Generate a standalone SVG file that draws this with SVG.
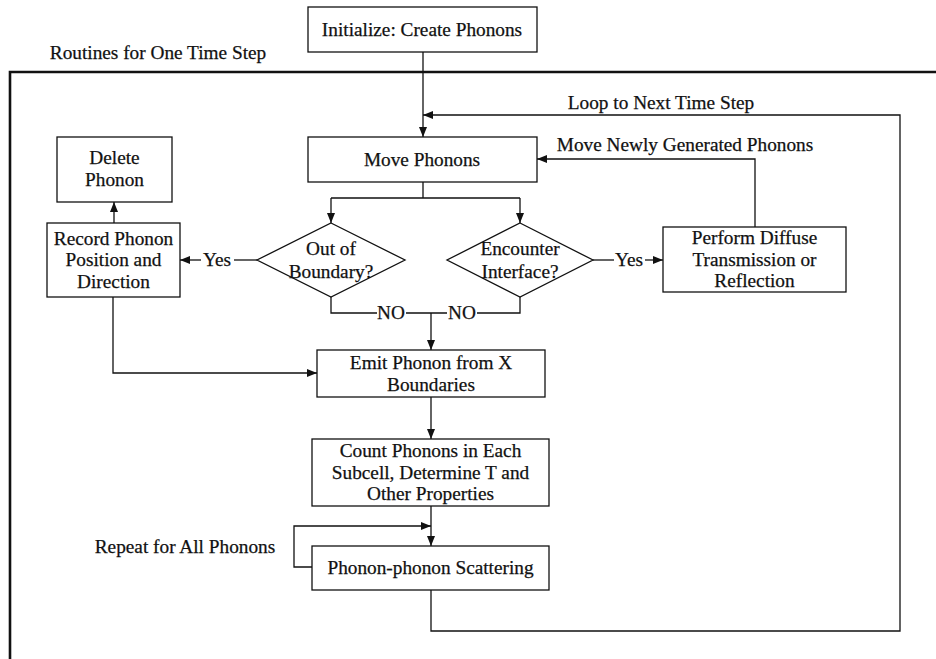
<svg xmlns="http://www.w3.org/2000/svg" width="936" height="659" viewBox="0 0 936 659">
  <defs>
    <marker id="arrow" markerUnits="userSpaceOnUse" markerWidth="11" markerHeight="9" refX="10" refY="4" orient="auto">
      <path d="M0,0 L10,4 L0,8 z" fill="#111"/>
    </marker>
    <style>
      .box { fill: #fff; stroke: #111; stroke-width: 1.3; }
      .frame { fill: none; stroke: #111; stroke-width: 2.6; }
      .wire { fill: none; stroke: #111; stroke-width: 1.3; }
      .arr { marker-end: url(#arrow); }
      text { font-family: "Liberation Serif", "Times New Roman", serif; font-size: 19.3px; fill: #111; stroke: #111; stroke-width: 0.25; }
      .c { text-anchor: middle; }
    </style>
  </defs>
  <rect width="936" height="659" fill="#fff"/>

  <!-- enclosing frame for one time step -->
  <g id="time-step-frame">
    <path class="frame" d="M10,659 V72 H936"/>
    <text x="158" y="59" class="c">Routines for One Time Step</text>
  </g>

  <g id="connectors">
    <path class="wire arr" d="M423,52 V137"/>
    <path class="wire arr" d="M431,590 V631 H900 V115 H423"/>
    <path class="wire arr" d="M755,227 V159 H537"/>
    <path class="wire" d="M423,182 V198 M331,198 H520"/>
    <path class="wire arr" d="M331,198 V223"/>
    <path class="wire arr" d="M520,198 V223"/>
    <path class="wire" d="M257,260 H234"/>
    <path class="wire arr" d="M201,260 H180"/>
    <path class="wire" d="M593,260 H614"/>
    <path class="wire arr" d="M645,260 H663"/>
    <path class="wire" d="M331,297 V313 H377 M406,313 H447 M477,313 H520 V297"/>
    <path class="wire arr" d="M431,313 V350"/>
    <path class="wire arr" d="M113,297 V373 H317"/>
    <path class="wire arr" d="M114,223 V202"/>
    <path class="wire arr" d="M431,397 V439"/>
    <path class="wire arr" d="M431,506 V546"/>
    <path class="wire arr" d="M312,567 H294 V526 H431"/>
    <text x="661" y="109" class="c">Loop to Next Time Step</text>
    <text x="685" y="151" class="c">Move Newly Generated Phonons</text>
    <text x="217" y="266" class="c">Yes</text>
    <text x="629" y="266" class="c">Yes</text>
    <text x="391" y="319" class="c">NO</text>
    <text x="462" y="319" class="c">NO</text>
    <text x="185" y="553" class="c">Repeat for All Phonons</text>
  </g>

  <g id="initialize">
    <rect class="box" x="308" y="7" width="229" height="45"/>
    <text x="422" y="36" class="c">Initialize: Create Phonons</text>
  </g>

  <g id="move-phonons">
    <rect class="box" x="308" y="137" width="229" height="45"/>
    <text x="422" y="166" class="c">Move Phonons</text>
  </g>

  <g id="delete-phonon">
    <rect class="box" x="57" y="137" width="115" height="65"/>
    <text x="114.5" y="164" class="c">Delete</text>
    <text x="114.5" y="186" class="c">Phonon</text>
  </g>

  <g id="record-phonon">
    <rect class="box" x="47" y="223" width="133" height="74"/>
    <text x="113.5" y="245" class="c">Record Phonon</text>
    <text x="113.5" y="266" class="c">Position and</text>
    <text x="113.5" y="288" class="c">Direction</text>
  </g>

  <g id="out-of-boundary">
    <polygon class="box" points="331,223 405,260 331,297 257,260"/>
    <text x="331" y="255" class="c">Out of</text>
    <text x="331" y="278" class="c">Boundary?</text>
  </g>

  <g id="encounter-interface">
    <polygon class="box" points="520,223 593,260 520,297 447,260"/>
    <text x="520" y="255" class="c">Encounter</text>
    <text x="520" y="278" class="c">Interface?</text>
  </g>

  <g id="diffuse-transmission">
    <rect class="box" x="663" y="227" width="183" height="65"/>
    <text x="754.5" y="244" class="c">Perform Diffuse</text>
    <text x="754.5" y="266" class="c">Transmission or</text>
    <text x="754.5" y="287" class="c">Reflection</text>
  </g>

  <g id="emit-phonon">
    <rect class="box" x="317" y="350" width="228" height="47"/>
    <text x="431" y="369" class="c">Emit Phonon from X</text>
    <text x="431" y="391" class="c">Boundaries</text>
  </g>

  <g id="count-phonons">
    <rect class="box" x="312" y="439" width="237" height="67"/>
    <text x="430.5" y="457" class="c">Count Phonons in Each</text>
    <text x="430.5" y="479" class="c">Subcell, Determine T and</text>
    <text x="430.5" y="500" class="c">Other Properties</text>
  </g>

  <g id="phonon-scattering">
    <rect class="box" x="312" y="546" width="237" height="44"/>
    <text x="430.5" y="574" class="c">Phonon-phonon Scattering</text>
  </g>
</svg>
